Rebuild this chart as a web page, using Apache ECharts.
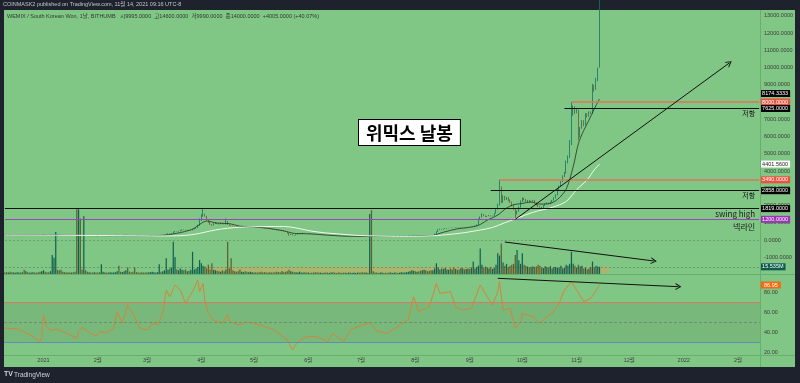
<!DOCTYPE html>
<html><head><meta charset="utf-8">
<script src="https://cdn.jsdelivr.net/npm/echarts@6/dist/echarts.min.js"></script>
<style>html,body{margin:0;padding:0;background:#1e222d}#c{width:800px;height:383px}</style>
</head><body><div id="c"></div>
<script>
// ---- axis / ticks ----
const startDate = Date.UTC(2020, 11, 10);
const totalDays = 431;
const tickDates = ['2021-01-01','2021-02-01','2021-03-01','2021-04-01','2021-05-01','2021-06-01','2021-07-01','2021-08-01','2021-09-01','2021-10-01','2021-11-01','2021-12-01','2022-01-01','2022-02-01'];
const tickLabels = ['2021','2월','3월','4월','5월','6월','7월','8월','9월','10월','11월','12월','2022','2월'];

// ---- daily candles (Dec 10 2020 .. Nov 14 2021) ----
const open = [
310,305,300,312,306,298,302,296,300,305, 298,292,288,294,285,280,284,290,282,276, 270,265,
272,300,288,282,278,280,300,310,330,305, 292,286,280,276,270,268,262,266,260,258, 256,262,258,254,260,255,250,252,248,246,250,
247,244,242,250,255,248,244,240,242,246, 252,260,290,262,258,270,275,300,285,272, 266,262,258,250,246,244,242,240,
238,236,240,245,250,255,252,258,262,260, 270,290,340,370,340,380,460,500,490,520, 560,600,590,560,570,545,560,620,660,700,840,
1170,1400,1500,1380,1200,1030,900,860,950,1000, 960,930,980,950,920,1100,900,850,820,800, 790,780,760,740,750,760,745,720,740,760,
770,755,740,735,730,720,700,690,670,650, 640,620,600,580,560,540,530,540,500,480, 400,300,340,280,270,310,350,390,370,410,400,
380,395,370,350,335,330,320,300,310,290, 280,270,262,280,290,258,250,245,240,230, 225,205,200,215,220,205,210,215,220,225,
218,214,212,210,215,218,222,215,210,208, 206,205,207,210,208,204,202,200,205,208, 212,210,208,212,215,218,222,228,232,240,250,
260,256,260,255,252,258,262,260,255,252, 250,258,350,480,600,630,610,640,670,690,700, 695,710,705,725,715,700,720,740,730,750,
760,745,762,780,820,880,1200,1320,1490,1400, 1350,1390,1420,1380,1400,1550,1780,2060,3050,2200, 2500,2350,2450,2300,2200,2000,1800,1520,1650,1900,
2250,2400,2350,2250,2300,2200,2250,2300,2150,2050, 1950,1900,1850,2000,2100,2150,2100,2200,2300,2450, 2600,2900,3100,3380,3700,3900,4500,4800,5600,7600,7700,
7400,7500,6000,6500,6900,6700,7300,7200,7400,7350, 8900,8800,9300,9995];
const close = [
305,300,312,306,298,302,296,300,305,298, 292,288,294,285,280,284,290,282,276,270, 265,272,
300,288,282,278,280,300,310,330,305,292, 286,280,276,270,268,262,266,260,258,256, 262,258,254,260,255,250,252,248,246,250,247,
244,242,250,255,248,244,240,242,246,252, 260,290,262,258,270,275,300,285,272,266, 262,258,250,246,244,242,240,238,
236,240,245,250,255,252,258,262,260,270, 290,340,370,340,380,460,500,490,520,560, 600,590,560,570,545,560,620,660,700,840,1170,
1400,1500,1380,1200,1030,900,860,950,1000,960, 930,980,950,920,1100,900,850,820,800,790, 780,760,740,750,760,745,720,740,760,770,
755,740,735,730,720,700,690,670,650,640, 620,600,580,560,540,530,540,500,480,400, 300,340,280,270,310,350,390,370,410,400,380,
395,370,350,335,330,320,300,310,290,280, 270,262,280,290,258,250,245,240,230,225, 205,200,215,220,205,210,215,220,225,218,
214,212,210,215,218,222,215,210,208,206, 205,207,210,208,204,202,200,205,208,212, 210,208,212,215,218,222,228,232,240,250,260,
256,260,255,252,258,262,260,255,252,250, 258,350,480,600,630,610,640,670,690,700,695, 710,705,725,715,700,720,740,730,750,760,
745,762,780,820,880,1200,1320,1490,1400,1350, 1390,1420,1380,1400,1550,1780,2060,3050,2200,2500, 2350,2450,2300,2200,2000,1800,1520,1650,1900,2250,
2400,2350,2250,2300,2200,2250,2300,2150,2050,1950, 1900,1850,2000,2100,2150,2100,2200,2300,2450,2600, 2900,3100,3380,3700,3900,4500,4800,5600,7600,7700,7400,
7500,6000,6500,6900,6700,7300,7200,7400,7350,8900, 8800,9300,9995,14000];
const high = [
318,310,316,315,308,306,304,302,308,306, 300,295,296,296,288,288,294,292,284,278, 272,276,
320,302,290,284,284,305,320,420,335,308, 294,288,282,278,272,270,268,268,262,260, 268,265,260,262,262,258,255,254,250,252,252,
248,246,252,258,256,250,246,244,248,255, 265,300,292,265,272,280,310,302,288,274, 268,264,260,252,248,246,244,242,
240,242,248,252,258,258,260,265,264,275, 300,350,390,375,390,480,520,510,530,580, 620,610,595,580,575,565,630,680,720,880,1250,
1500,1819,1520,1400,1220,1050,920,980,1040,1010, 970,1000,990,960,1250,1110,910,860,830,810, 800,785,765,760,770,770,750,750,770,780,
775,760,745,740,735,725,705,695,675,655, 645,625,605,585,565,545,550,545,505,485, 410,350,345,290,320,360,400,395,420,420,405,
400,398,372,352,338,333,322,312,312,292, 282,272,285,295,292,260,252,248,242,232, 226,208,218,222,222,212,218,222,228,227,
220,216,214,217,220,225,224,217,212,210, 208,209,212,211,209,206,204,206,209,213, 214,212,213,217,220,224,230,234,243,253,265,
262,263,261,257,260,265,264,262,257,254, 262,360,500,620,660,640,650,680,700,710,705, 715,720,730,730,720,725,745,745,755,765,
765,765,785,830,900,1250,1360,1550,1500,1420, 1400,1450,1430,1410,1580,1800,2100,3490,3100,2600, 2550,2500,2480,2350,2230,2050,1850,1700,1950,2300,
2460,2450,2380,2320,2330,2270,2320,2320,2180,2080, 1980,1920,2020,2120,2180,2170,2220,2320,2480,2650, 2950,3150,3420,3750,3950,4600,4900,5800,8000,7800,7750,
7600,7550,6550,6950,6950,7350,7350,7450,7450,9050, 9000,9400,10000,14600];
const low = [
300,296,298,302,294,294,292,294,298,294, 288,284,286,282,276,278,282,278,272,266, 260,262,
268,284,278,274,275,278,298,305,300,288, 282,276,272,266,264,258,260,256,254,252, 250,254,250,252,250,246,248,244,242,244,244,
240,238,240,246,244,240,236,238,240,244, 250,258,258,255,256,266,272,280,268,262, 258,254,246,242,240,238,236,234,
232,234,238,243,248,248,250,255,256,258, 265,285,335,330,335,375,450,480,485,515, 550,580,550,550,535,540,555,610,650,690,820,
1100,1350,1350,1150,1000,880,820,840,930,940, 900,910,930,900,900,880,830,800,780,780, 770,750,730,730,740,735,710,710,730,750,
745,730,725,720,705,690,680,660,640,630, 610,590,570,550,530,520,520,490,470,380, 250,290,270,260,265,305,345,360,365,395,375,
370,365,345,330,320,315,295,295,285,275, 265,255,260,275,255,245,240,235,225,220, 200,196,198,212,202,202,208,212,217,214,
210,209,207,208,213,216,212,208,205,204, 202,203,205,205,202,199,198,198,202,206, 207,206,206,210,213,216,220,226,230,238,248,
252,254,252,250,250,256,256,252,250,247, 247,255,345,470,590,600,605,635,665,685,690, 690,700,700,710,695,695,715,725,725,745,
740,740,758,775,815,870,1150,1300,1380,1340, 1330,1380,1370,1370,1390,1540,1760,2000,2150,2150, 2300,2320,2250,2150,1950,1750,1200,1480,1630,1880,
2200,2300,2200,2200,2180,2180,2220,2120,2000,1920, 1880,1820,1830,1980,2080,2080,2080,2180,2280,2420, 2580,2880,3080,3350,3650,3850,4450,4750,5500,7200,7300,
7350,5780,5950,6450,6600,6650,7100,7150,7300,7300, 8600,8700,9200,9990];
// volume, millions
const volume = [
3,4,3,5,4,3,3,4,3,3, 4,9,6,4,3,3,4,3,3,4, 5,6,
8,5,4,4,6,41,35,91,9,8, 9,5,4,3,4,3,3,4,5,140, 140,120,10,125,8,5,4,3,3,4,3,
3,4,21,5,4,3,3,4,3,3, 4,6,18,5,4,6,8,14,5,4, 5,14,4,3,3,4,3,3,
4,3,4,5,4,3,4,21,5,6, 8,34,9,12,14,70,37,10,8,12, 9,8,10,6,7,9,48,10,12,15,30,
23,18,16,12,20,10,23,9,8,7, 6,5,8,6,10,70,12,34,8,6, 5,6,10,5,4,6,5,4,5,4,
3,4,3,4,5,3,4,3,3,4, 3,3,4,5,4,3,6,4,5,6, 9,6,5,4,4,3,5,3,3,4,3,
3,2,3,3,4,3,3,3,2,3, 3,3,2,3,4,3,2,3,3,2, 3,3,2,3,3,2,3,2,3,3,
3,4,3,3,2,130,138,6,3,3, 2,3,3,2,3,2,3,3,2,3, 3,2,3,4,3,3,4,5,6,8,7,
6,5,6,7,8,9,8,6,7,8, 8,12,23,14,10,12,11,13,10,9,12, 10,14,11,9,10,13,12,10,11,12,
11,14,27,12,15,18,55,20,14,16, 14,12,15,11,13,20,45,40,66,25, 18,22,15,18,20,22,41,52,30,22,
45,20,18,16,14,15,17,15,16,20, 18,14,13,17,15,14,17,12,15,15, 13,14,18,12,14,20,18,22,48,22,18,
14,20,16,18,12,14,10,12,15,27, 14,18,16,15.535];

// moving averages: [dayIndex, value]
const maShort = [[0,300],[25,285],[50,255],[75,245],[91,280],[100,430],[105,560],[108,680],[111,900],[115,1100],[121,980],[128,950],[134,800],[140,760],[150,680],[159,530],[165,380],[168,370],[175,350],[187,260],[197,215],[210,210],[225,212],[240,240],[244,260],[250,450],[258,650],[264,720],[270,850],[275,1150],[281,1450],[286,1850],[290,2050],[294,2100],[300,2200],[305,2080],[310,2100],[315,2350],[320,2950],[324,4250],[327,5600],[330,6350],[333,6950],[336,7600],[339,8174.3333]];
const maLong = [[0,290],[30,275],[60,255],[91,235],[100,250],[106,300],[111,384],[117,520],[123,630],[131,720],[140,760],[150,780],[159,785],[166,700],[174,530],[182,420],[191,344],[199,280],[206,246],[215,225],[225,212],[235,215],[244,246],[254,330],[263,441],[271,580],[278,727],[285,1000],[292,1260],[301,1604],[312,1890],[320,2234],[326,2920],[332,3494],[336,4066],[339,4401.56]];
// RSI: [dayIndex, value]
const rsi = [[0,43.7],[7,43.3],[10,41.3],[11,42.7],[16,35.3],[20,30.3],[21,35],[22,57],[24,44.7],[26,42],[30,42.7],[35,38.7],[41,33.7],[42,40.3],[44,44.7],[47,41],[52,36],[54,40.3],[58,39.3],[62,43.7],[64,60.3],[67,48.7],[70,67],[73,58.7],[77,43.7],[81,42],[84,48.7],[87,47],[90,58.7],[92,82],[94,75.3],[97,87],[100,82],[103,68.7],[107,80.3],[110,92],[111,80.3],[113,88.7],[114,70.3],[116,58.7],[119,52],[124,48.7],[127,57],[128,50.3],[134,47],[138,50.3],[145,47],[153,42.7],[161,32],[164,22],[167,30.3],[172,35.3],[178,35.3],[184,30.3],[187,38.7],[193,30.3],[197,42],[201,45.3],[208,49.3],[212,41],[218,38.7],[224,45.3],[225,47],[230,52.7],[233,75.3],[236,60.3],[238,62],[242,65.3],[246,88.7],[248,78.7],[254,80.3],[257,65.3],[261,62],[266,63.7],[271,87],[275,75.3],[278,67],[281,80.3],[282,90.3],[284,62],[288,63.7],[291,43.7],[294,50.3],[295,58.7],[301,55.3],[305,48.7],[309,55.3],[312,58.7],[316,68.7],[319,82],[323,90.3],[326,82],[330,70.3],[334,73.7],[336,78.7],[339,86.95]];

// ---- build ----
const cats = [];
for (let d = 0; d < totalDays; d++) cats.push(new Date(startDate + d * 86400000).toISOString().slice(0, 10));
const last = totalDays - 1;
const candles = close.map((c, i) => [open[i], c, low[i], high[i]]);
const UP = '#0f7566', DN = '#6e5a2c';
const volData = volume.map((v, i) => ({ value: v, itemStyle: { color: close[i] >= open[i] ? '#0e6152' : '#5a6030' } }));
const F = "'Liberation Sans','Noto Sans CJK KR',sans-serif";
const K = "'Noto Sans CJK KR',sans-serif";
const chev = 'path://M0,10 L5,0 L10,10 L8.4,10 L5,3.2 L1.6,10 Z';
const HIDE = 'rgba(0,0,0,0)';
const tag = (txt, bg, fg, off) => ({ show: true, position: 'end', distance: 1, offset: off || [0, 0], formatter: txt, backgroundColor: bg, color: fg || '#fff', fontSize: 5.5, fontFamily: F, padding: [1, 2, 0.5, 2] });

function hLine(from, val, color, width, lbl, lblBg) {
  return [{ coord: [from, val], lineStyle: { color: color, width: width, type: 'solid' },
    label: lbl ? tag(lbl, lblBg) : { show: false } },
    { coord: [last, val] }];
}
function hText(from, val, txt, size, dy) {
  return [{ coord: [from, val], lineStyle: { color: HIDE, width: 0 },
    label: { show: true, position: 'insideEndBottom', distance: [4, dy], formatter: txt, color: '#1a1a1a', fontSize: size, fontFamily: K } },
    { coord: [last, val] }];
}
function arrow(a, b) {
  return [{ coord: a, symbol: 'none', lineStyle: { color: '#111', width: 1, type: 'solid' }, label: { show: false } },
          { coord: b, symbol: chev, symbolSize: [7, 6] }];
}

const option = {
  animation: false,
  backgroundColor: '#1e222d',
  graphic: [
    { type: 'rect', z: -10, silent: true, shape: { x: 4, y: 10, width: 791, height: 357 }, style: { fill: '#80c684' } },
    { type: 'line', z: 100, silent: true, shape: { x1: 4, y1: 274.5, x2: 795, y2: 274.5 }, style: { stroke: '#6aae6e', lineWidth: 1 } },
    { type: 'line', z: 100, silent: true, shape: { x1: 4, y1: 355.5, x2: 795, y2: 355.5 }, style: { stroke: '#6aae6e', lineWidth: 1 } },
    { type: 'line', z: 100, silent: true, shape: { x1: 760.5, y1: 10, x2: 760.5, y2: 367 }, style: { stroke: '#6aae6e', lineWidth: 1 } },
    { type: 'text', z: 100, left: 3, top: 2, style: { text: 'COINMASK2 published on TradingView.com, 11월 14, 2021 09:16 UTC-8', fill: '#c3c6ce', font: '5.5px ' + F } },
    { type: 'text', z: 100, left: 7, top: 14, style: { text: 'WEMIX / South Korean Won, 1날, BITHUMB   시9995.0000  고14600.0000  저9990.0000  종14000.0000  +4005.0000 (+40.07%)', fill: '#2d3b30', font: '5.5px ' + F } },
    { type: 'text', z: 100, left: 4, top: 371, style: { text: 'TV', fill: '#d1d4dc', font: 'bold 7px ' + F } },
    { type: 'text', z: 100, left: 14, top: 371.5, style: { text: 'TradingView', fill: '#d1d4dc', font: '6.5px ' + F } },
    { type: 'text', z: 100, left: 358, top: 119, style: { text: '위믹스 날봉', fill: '#000', font: 'bold 18px ' + K, backgroundColor: '#fff', borderColor: '#000', borderWidth: 1, padding: [4, 7, 3, 7] } }
  ],
  grid: [
    { left: 4, right: 40, top: 10, height: 264.5 },
    { left: 4, right: 40, top: 200, height: 74 },
    { left: 4, right: 40, top: 272, height: 100 },
    { left: 4, right: 40, top: 354, height: 1 }
  ],
  xAxis: [0, 1, 2, 3].map(g => ({
    type: 'category', gridIndex: g, data: cats, boundaryGap: true,
    axisLine: { show: false }, axisTick: { show: false }, splitLine: { show: false },
    axisLabel: g === 3 ? {
      show: true, margin: 3, color: '#3a3d3a', fontSize: 5.5, fontFamily: F,
      interval: (idx, val) => tickDates.indexOf(val) >= 0,
      formatter: val => tickLabels[tickDates.indexOf(val)]
    } : { show: false }
  })),
  yAxis: [
    { type: 'value', gridIndex: 0, position: 'right', min: -2000, max: 13333, interval: 1000,
      axisLine: { show: false }, axisTick: { show: false }, splitLine: { show: false },
      axisLabel: { margin: 4, color: '#3a3d3a', fontSize: 5.5, fontFamily: F, showMinLabel: false, showMaxLabel: false, formatter: v => v.toFixed(4) } },
    { type: 'value', gridIndex: 1, min: 0, max: 160, show: false },
    { type: 'value', gridIndex: 2, position: 'right', min: 0, max: 100, interval: 20,
      axisLine: { show: false }, axisTick: { show: false }, splitLine: { show: false },
      axisLabel: { margin: 4, color: '#3a3d3a', fontSize: 5.5, fontFamily: F, showMinLabel: false, showMaxLabel: false, formatter: v => v.toFixed(2) } },
    { type: 'value', gridIndex: 3, show: false }
  ],
  series: [
    { type: 'bar', name: 'vol', xAxisIndex: 1, yAxisIndex: 1, data: volData, barWidth: '70%',
      markArea: { silent: true, itemStyle: { color: 'rgba(204,170,96,0.55)' }, data: [[{ xAxis: 136, yAxis: 2 }, { xAxis: 339, yAxis: 15 }]] },
      markLine: { silent: true, symbol: ['none', 'none'], lineStyle: { type: 'solid' }, data: [
        [{ coord: [0, 15.535], lineStyle: { color: 'rgba(60,70,60,0.35)', type: [2, 2], width: 1 }, label: tag('15.535M', '#0e5b4d') },
         { coord: [last, 15.535] }]
      ] } },
    { type: 'candlestick', name: 'WEMIX', xAxisIndex: 0, yAxisIndex: 0, data: candles, barWidth: '60%',
      itemStyle: { color: UP, color0: DN, borderColor: UP, borderColor0: DN, borderWidth: 0.8 },
      markLine: { silent: true, symbol: ['none', 'none'], lineStyle: { type: 'solid' }, data: [
        [{ coord: [0, 0], lineStyle: { color: 'rgba(60,70,60,0.3)', type: [2, 2], width: 1 }, label: { show: false } }, { coord: [last, 0] }],
        hLine(323, 8000, '#e0725c', 1.5, '8000.0000', '#f0513f'),
        hLine(319, 7625, '#111', 1, '7625.0000', '#000'),
        hLine(282, 3490, '#e0725c', 1.5, '3490.0000', '#f0513f'),
        hLine(277, 2858, '#111', 1, '2858.0000', '#000'),
        hLine(0, 1819, '#111', 1, '1819.0000', '#000'),
        hLine(0, 1200, '#a23fbe', 1, '1200.0000', '#9c32b8'),
        [{ coord: [0, 8174.3333], lineStyle: { color: HIDE, width: 0 }, label: tag('8174.3333', '#000', '#fff', [0, -5.5]) }, { coord: [last, 8174.3333] }],
        [{ coord: [0, 4401.56], lineStyle: { color: HIDE, width: 0 }, label: tag('4401.5600', '#fff', '#222') }, { coord: [last, 4401.56] }],
        hText(319, 7625, '저항', 7, 1),
        hText(277, 2858, '저항', 7, 1.5),
        hText(0, 1819, 'swing high', 8, 1),
        hText(0, 1200, '넥라인', 8, 4),
        arrow([291, 1200], [413, 10261]),
        arrow([285, -116], [370, -1217])
      ] } },
    { type: 'line', name: 'MA1', xAxisIndex: 0, yAxisIndex: 0, data: maShort, smooth: 0.3, symbol: 'none',
      lineStyle: { color: '#26302a', width: 0.8 } },
    { type: 'line', name: 'MA2', xAxisIndex: 0, yAxisIndex: 0, data: maLong, smooth: 0.3, symbol: 'none',
      lineStyle: { color: '#f4f7f2', width: 1 } },
    { type: 'line', name: 'RSI', xAxisIndex: 2, yAxisIndex: 2, data: rsi, symbol: 'none',
      lineStyle: { color: '#d6843a', width: 1 },
      markArea: { silent: true, itemStyle: { color: '#78b87b' }, data: [[{ yAxis: 30 }, { yAxis: 70 }]] },
      markLine: { silent: true, symbol: ['none', 'none'], lineStyle: { type: 'solid' }, data: [
        { yAxis: 70, lineStyle: { color: '#d57a5e', width: 1, type: 'solid' }, label: { show: false } },
        { yAxis: 50, lineStyle: { color: '#6f8f70', width: 1, type: [3, 2] }, label: { show: false } },
        { yAxis: 30, lineStyle: { color: '#5f8fb3', width: 1, type: 'solid' }, label: { show: false } },
        { yAxis: 86.95, lineStyle: { color: HIDE, width: 0 }, label: { show: true, position: 'end', distance: 1, formatter: '86.95', backgroundColor: '#f26b0f', color: '#fff', fontSize: 5.5, fontFamily: F, padding: [1, 3, 0.5, 3] } },
        arrow([281, 93.7], [384, 85.3])
      ] } }
  ]
};
const chart = echarts.init(document.getElementById('c'));
chart.setOption(option);
</script></body></html>
